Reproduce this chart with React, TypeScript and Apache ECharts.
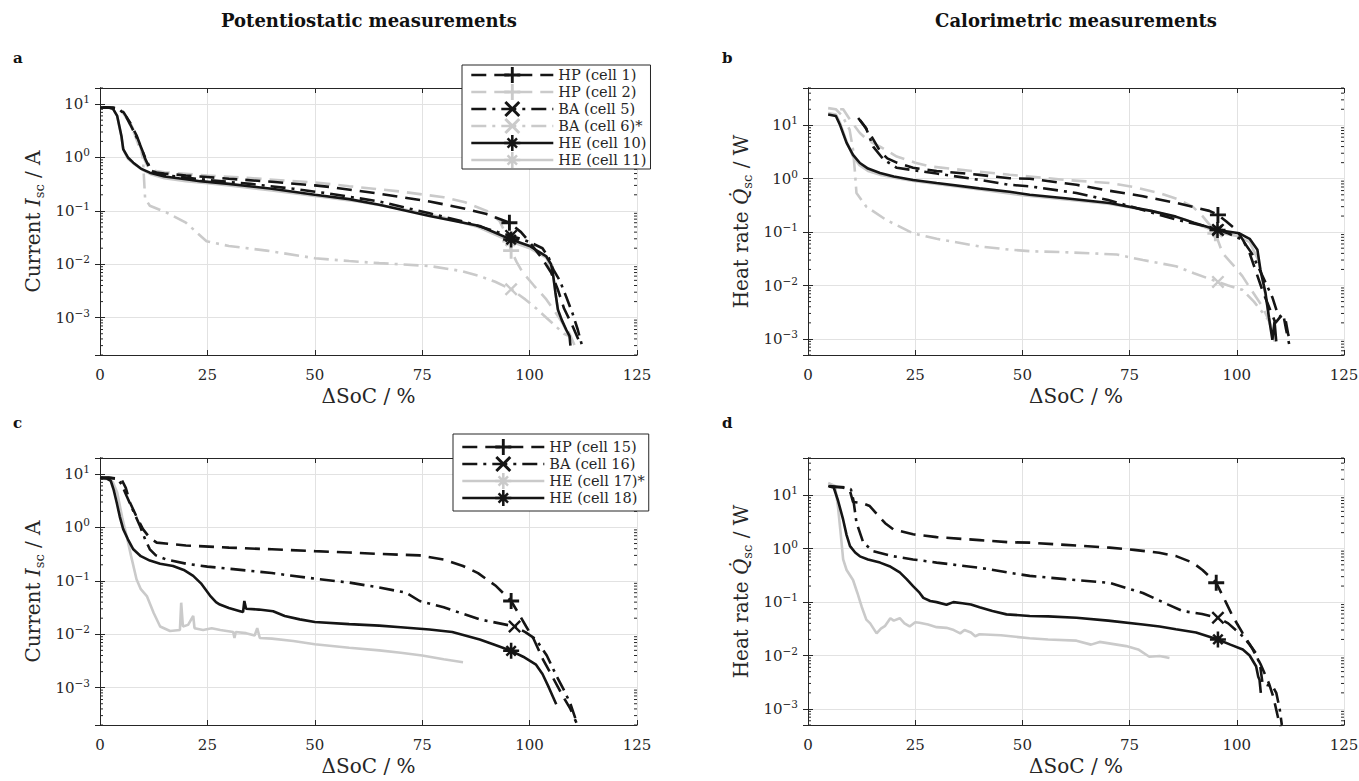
import React, { useEffect, useRef } from "react";
import * as echarts from "echarts";

const FONT = "DejaVu Serif";
const INK = "#262626";
const BLACK = "#151515";
const GRAY = "#cacaca";
const GRIDC = "#e2e2e2";

// x-axis ticks (ΔSoC / %)
const xTickMax = 125;
const xTickStep = 25;

// ---------- Panel a : potentiostatic, current / A ----------
const aHP1: number[][] = [[0,8.6],[2,8.6],[4,8.3],[5.5,7],[7,4.5],[8.5,2.6],[9.5,1.6],[10.5,0.95],[11.6,0.62],[13,0.52],[15,0.5],[20,0.46],[25,0.43],[30,0.4],[40,0.35],[50,0.3],[53.5,0.28],[65,0.21],[76.7,0.15],[85,0.11],[90,0.087],[95.3,0.06],[98,0.04],[100,0.026],[103,0.0125],[105,0.007],[106.5,0.0035],[108,0.0015],[110,0.0007],[111.6,0.00035]];
const aHP2: number[][] = [[0,8.6],[3,8.5],[5,7.5],[6.5,5],[8,2.8],[9.5,1.3],[11,0.7],[13,0.56],[15,0.53],[25,0.46],[35,0.41],[50,0.34],[58,0.29],[70,0.23],[80,0.18],[85,0.145],[90,0.1],[93,0.065],[95,0.03],[95.7,0.018],[97,0.011],[98.4,0.007],[101,0.004],[103.9,0.0022],[106.5,0.0011],[109.3,0.0005],[110.5,0.0003]];
const aBA5: number[][] = [[0,8.6],[3,8.6],[4.5,8],[6,6],[7.5,3.5],[9,2],[10.5,1],[12,0.56],[14,0.48],[20,0.42],[25,0.38],[35,0.32],[45,0.26],[53.5,0.21],[65,0.15],[76.7,0.09],[85,0.062],[92.7,0.04],[95.7,0.034],[98,0.03],[100,0.026],[103,0.02],[104.5,0.013],[105.5,0.008],[107,0.005],[108.5,0.0025],[110,0.0012],[111.2,0.0006],[112.2,0.0003]];
const aBA6: number[][] = [[0,8.6],[3,8.6],[5,7.5],[7,4.5],[8.5,2.5],[9.5,1.5],[10,0.93],[10.5,0.17],[11.6,0.125],[15.5,0.093],[20,0.06],[24.8,0.027],[30,0.022],[38.8,0.018],[50,0.013],[58,0.0115],[65,0.0105],[76.7,0.0093],[84,0.0075],[88.4,0.006],[92,0.0047],[95.7,0.0034],[99,0.0022],[101.5,0.0015],[103.9,0.001],[106,0.0007],[108,0.0005],[109.3,0.00045]];
const aHE10: number[][] = [[0,8.7],[2,8.6],[3,8.2],[4,6],[5,2.5],[5.4,1.43],[6.5,1.0],[7.75,0.8],[9.5,0.62],[11.6,0.52],[15,0.44],[20,0.39],[23.3,0.36],[30,0.32],[40,0.26],[50,0.2],[58,0.166],[65,0.13],[76.7,0.08],[88.4,0.052],[95.7,0.029],[100,0.022],[103.9,0.014],[105,0.01],[105.4,0.007],[106,0.003],[106.6,0.0014],[107.5,0.0009],[108.5,0.0006],[109.3,0.00045],[109.5,0.0003]];
const aHE11: number[][] = [[0,8.7],[2,8.6],[3,8.2],[4,6],[5,2.4],[5.5,1.35],[6.5,0.95],[8,0.75],[10,0.58],[12,0.48],[15,0.41],[20,0.36],[25,0.33],[30,0.3],[40,0.24],[50,0.19],[60,0.15],[70,0.11],[80,0.075],[88,0.05],[95.5,0.027],[100,0.02],[104,0.013],[105.5,0.006],[106.5,0.0015],[108,0.0007],[109.5,0.0004]];
const aMarkX = [95.3, 95.7, 95.7, 95.7, 95.7, 95.5];

// ---------- Panel b : calorimetric, heat rate / W ----------
const bHP1: number[][] = [[11.7,13.7],[13,10],[14.8,6.2],[16.8,3.3],[18.5,2.4],[20.7,2.0],[24.5,1.6],[30,1.4],[40,1.18],[47,1.02],[51.7,1.0],[62.6,0.77],[70,0.6],[78.1,0.47],[86,0.35],[93.6,0.25],[95.6,0.21],[97.5,0.16],[99.9,0.11],[101.5,0.07],[103,0.04],[104.5,0.018],[106,0.008],[107.5,0.004],[109,0.002],[110,0.0025],[110.8,0.003],[111.5,0.0015],[112.2,0.0008]];
const bHP2: number[][] = [[7.5,20],[8.2,20],[10,12],[12.1,7.2],[14,5.2],[16.8,4],[20.7,2.6],[25,2.0],[28.5,1.7],[40,1.35],[47,1.19],[51.7,1.1],[60,0.95],[70.3,0.83],[76,0.7],[81.9,0.54],[86,0.42],[89.7,0.3],[92,0.2],[93.6,0.14],[95,0.095],[96.7,0.04],[99,0.025],[101.3,0.015],[103.5,0.008],[106,0.004],[107.5,0.0022],[108.3,0.0013],[109,0.0009]];
const bBA5: number[][] = [[12.1,12.6],[13.5,9],[15.2,4],[17.6,2.3],[20.7,1.6],[24.5,1.45],[30,1.25],[40,0.95],[47,0.77],[51.7,0.72],[62.6,0.54],[70,0.4],[78.1,0.26],[86,0.17],[93.6,0.125],[95.6,0.11],[98,0.095],[101.3,0.072],[103.5,0.04],[106,0.015],[108.3,0.006],[109.5,0.003],[110.5,0.0025],[111.4,0.0022],[112,0.0012],[112.5,0.0009]];
const bBA6: number[][] = [[4.7,21],[6.5,20],[8,15],[9.7,8.3],[10.5,3.5],[10.9,1.48],[11.3,0.54],[13.6,0.3],[18.2,0.17],[24.5,0.095],[30,0.075],[40,0.054],[47,0.047],[51.7,0.044],[60,0.042],[66.4,0.04],[72,0.038],[78.1,0.03],[85.8,0.023],[90,0.017],[95.6,0.0117],[98,0.01],[101.3,0.0083],[104,0.005],[107.5,0.0022],[108.3,0.0013],[109,0.0009]];
const bHE10: number[][] = [[4.7,16],[6.5,15],[7.5,10],[9,4.7],[10.5,2.8],[12.1,1.97],[14,1.55],[16.8,1.28],[20,1.1],[24.5,0.95],[30,0.83],[40,0.66],[47,0.57],[51.7,0.5],[60,0.43],[70.3,0.35],[80,0.25],[85.8,0.195],[90,0.15],[95.5,0.11],[100.6,0.095],[103,0.075],[104.8,0.047],[105.5,0.02],[106.7,0.0072],[107.5,0.0025],[108.3,0.00096],[108.8,0.0021],[109.2,0.0009]];
const bHE11: number[][] = [[4.7,17],[6.5,16],[7.5,11],[9,5],[10.5,2.6],[12,1.8],[14,1.4],[17,1.18],[20,1.05],[25,0.9],[30,0.8],[40,0.63],[50,0.49],[60,0.41],[70,0.34],[80,0.25],[88,0.17],[95.5,0.1],[100,0.085],[103,0.065],[105,0.03],[106.5,0.008],[108,0.0015],[108.8,0.0009]];
const bMarkX = [95.6, 95, 95.6, 95.6, 95.5, 95.5];

// ---------- Panel c : potentiostatic, current / A ----------
const cHP15: number[][] = [[0,8.5],[2,8.6],[5,8.0],[6,5.5],[7,2.9],[8.5,1.6],[10,0.93],[11.5,0.65],[13.2,0.52],[20,0.46],[30,0.42],[40,0.39],[50,0.36],[58,0.34],[65,0.32],[74.4,0.3],[80,0.25],[84.5,0.19],[88,0.14],[92.2,0.08],[95.7,0.042],[97.5,0.024],[99.2,0.014],[101,0.008],[103.1,0.0034],[105.5,0.0015],[107.7,0.0007],[109.5,0.0004],[110.9,0.00022]];
const cBA16: number[][] = [[0,8.5],[2,8.5],[4,8.2],[5,6.5],[6.2,3.9],[7.8,2],[9.3,1.07],[10.5,0.6],[11.6,0.39],[13,0.3],[15.5,0.25],[20,0.21],[25,0.185],[31,0.166],[40,0.14],[50,0.11],[58,0.093],[65,0.075],[71.3,0.06],[74.4,0.042],[80,0.032],[88.4,0.019],[93,0.016],[96.5,0.014],[99,0.011],[101.5,0.008],[104,0.004],[106.2,0.0017],[108,0.0009],[109.5,0.0005],[111,0.00022]];
const cHE17: number[][] = [[0,8.3],[2,8],[3,7],[4,4.5],[5.2,1.5],[6.2,0.69],[7.2,0.3],[8.5,0.107],[9.5,0.07],[10.9,0.052],[12.5,0.025],[14,0.014],[16.3,0.0115],[18.6,0.012],[18.9,0.039],[19.3,0.014],[20.5,0.015],[21.7,0.022],[22,0.013],[24,0.012],[26,0.013],[28,0.012],[31,0.011],[31.3,0.0085],[31.6,0.011],[34,0.0105],[36,0.0095],[36.6,0.013],[37.2,0.0085],[40,0.0083],[45,0.0075],[50,0.0065],[58,0.0056],[65,0.005],[70,0.0045],[75,0.004],[80,0.0034],[84.5,0.003]];
const cHE18: number[][] = [[0,8.5],[1.5,8.3],[2.5,7.5],[3.2,5],[3.9,2.9],[4.6,1.6],[5.4,0.93],[6.5,0.6],[7.75,0.39],[9.5,0.29],[11.6,0.24],[14,0.21],[17,0.19],[19.5,0.16],[21.7,0.124],[23.5,0.09],[25.6,0.053],[27,0.04],[27.9,0.036],[30,0.031],[32.6,0.027],[33.3,0.026],[33.6,0.042],[34,0.03],[37,0.029],[40.3,0.027],[43,0.022],[46.5,0.019],[50,0.017],[58,0.0155],[65,0.0145],[70,0.0135],[76.7,0.0123],[82,0.011],[88.4,0.008],[92,0.0063],[95.7,0.0049],[98.5,0.0038],[101.5,0.0027],[103,0.0018],[104.5,0.001],[106.2,0.00049]];
const cMarkX = [95.7, 96.5, -1, 95.7];

// ---------- Panel d : calorimetric, heat rate / W ----------
const dHP15: number[][] = [[5,15],[7,14.5],[9,14],[9.8,12],[10.5,7.5],[12.5,7.2],[14.4,6.3],[16,4.5],[18,3],[19.9,2.3],[24.5,1.86],[30,1.65],[40,1.45],[47,1.32],[51.7,1.3],[60,1.18],[70.3,1.05],[76,0.95],[81.9,0.84],[86,0.72],[89.7,0.55],[92,0.4],[95.2,0.23],[97.5,0.098],[99,0.055],[101.4,0.026],[103.5,0.014],[105.5,0.007],[107.5,0.003],[108.5,0.0017],[109.9,0.00055],[110.4,0.0004]];
const dBA16: number[][] = [[5,14.5],[8,14],[10,13],[10.6,8],[11.3,3.1],[12.9,1.3],[15.2,0.9],[20,0.72],[24.5,0.63],[30,0.55],[40,0.44],[47,0.355],[51.7,0.31],[60,0.27],[70.3,0.23],[78.1,0.148],[84,0.09],[87.4,0.068],[91.9,0.06],[95.6,0.051],[98,0.04],[101.4,0.023],[103,0.016],[104.5,0.011],[105.5,0.006],[106,0.003],[107,0.0028],[108.3,0.0027],[109.2,0.002],[110,0.001],[110.5,0.0005]];
const dHE17: number[][] = [[4.7,17],[6.3,15],[7,6],[7.6,2],[8.2,0.63],[9,0.4],[10.5,0.26],[11.5,0.15],[12.5,0.083],[13.6,0.047],[14.5,0.04],[16,0.026],[17,0.032],[18,0.036],[19.2,0.05],[20,0.045],[21.4,0.05],[22.5,0.04],[23.7,0.035],[25,0.042],[26,0.041],[28,0.038],[30,0.034],[32.3,0.033],[34,0.03],[35.5,0.026],[36.5,0.03],[38,0.027],[39,0.023],[40,0.025],[45,0.024],[51.7,0.021],[56,0.02],[62.6,0.019],[66,0.016],[68,0.018],[74.2,0.015],[77,0.013],[79.6,0.0095],[82,0.0098],[84.3,0.009]];
const dHE18: number[][] = [[4.7,15],[6,14],[7,8],[8.2,3.5],[9,1.8],[9.8,1.12],[11,0.85],[12.1,0.72],[14,0.63],[16.8,0.55],[19,0.47],[21.4,0.36],[23,0.27],[24.5,0.2],[26,0.15],[26.9,0.12],[28.5,0.105],[30,0.1],[32.3,0.089],[33.9,0.1],[36,0.095],[38,0.09],[40,0.08],[43,0.068],[46.3,0.059],[51.7,0.055],[56,0.054],[62.6,0.051],[70,0.045],[78.1,0.038],[82,0.035],[85.8,0.031],[90.5,0.027],[95.6,0.02],[98.5,0.016],[101.4,0.013],[103,0.01],[104.5,0.0063],[105,0.004],[105.3,0.0035],[105.6,0.002]];
const dMarkX = [95.2, 95.6, -1, 95.6];

// legend names
const namesTop = ["HP (cell 1)", "HP (cell 2)", "BA (cell 5)", "BA (cell 6)*", "HE (cell 10)", "HE (cell 11)"];
const namesBottom = ["HP (cell 15)", "BA (cell 16)", "HE (cell 17)*", "HE (cell 18)"];

// y ranges
const yRangeCurrent = [2e-4, 20];
const yRangeHeat = [5e-4, 50];

// marker shapes
const PLUS = "path://M0.41,0H0.59V0.41H1V0.59H0.59V1H0.41V0.59H0V0.41H0.41Z";
const CROSS = "path://M0,0.13L0.13,0L1,0.87L0.87,1Z M0.87,0L1,0.13L0.13,1L0,0.87Z";
const STAR = "path://M0.42,0H0.58V0.42H1V0.58H0.58V1H0.42V0.58H0V0.42H0.42Z M0.15,0.26L0.26,0.15L0.85,0.74L0.74,0.85Z M0.74,0.15L0.85,0.26L0.26,0.85L0.15,0.74Z";

const DASH = [15, 8];
const DASHDOT = [15, 6, 3, 6];

type Sty = { color: string; dash: any; symbol: string; size: number; z: number };
const S_HP = (c: string, z: number): Sty => ({ color: c, dash: DASH, symbol: PLUS, size: 16, z });
const S_BA = (c: string, z: number): Sty => ({ color: c, dash: DASHDOT, symbol: CROSS, size: 13, z });
const S_HE = (c: string, z: number): Sty => ({ color: c, dash: "solid", symbol: STAR, size: 16, z });

function lineSeries(name: string, pts: number[][], markX: number, st: Sty, p: number) {
  const data = pts.map((q) => (q[0] === markX ? { value: q } : { value: q, symbol: "none" }));
  return {
    type: "line",
    name,
    xAxisIndex: 2 * p,
    yAxisIndex: 2 * p,
    data,
    symbol: st.symbol,
    symbolSize: st.size,
    showSymbol: true,
    showAllSymbol: true,
    clip: true,
    silent: true,
    z: st.z,
    lineStyle: { color: st.color, width: 2.6, type: st.dash },
    itemStyle: { color: st.color },
  };
}

function minorTicks(range: number[]) {
  const out: number[] = [];
  for (let e = -5; e <= 2; e++) {
    for (let m = 2; m <= 9; m++) {
      const v = m * Math.pow(10, e);
      if (v >= range[0] * 0.999 && v <= range[1] * 1.001) out.push(v);
    }
  }
  return out;
}

function minorTickSeries(p: number, range: number[]) {
  return {
    type: "custom",
    xAxisIndex: 2 * p,
    yAxisIndex: 2 * p,
    silent: true,
    clip: false,
    z: 5,
    data: minorTicks(range).map((v) => [0, v]),
    encode: { x: 0, y: 1 },
    renderItem: (params: any, api: any) => {
      const cs = params.coordSys;
      const y = api.coord([0, api.value(1)])[1];
      return {
        type: "group",
        children: [
          { type: "line", shape: { x1: cs.x, y1: y, x2: cs.x + 3, y2: y }, style: { stroke: INK, lineWidth: 1 } },
          { type: "line", shape: { x1: cs.x + cs.width, y1: y, x2: cs.x + cs.width - 3, y2: y }, style: { stroke: INK, lineWidth: 1 } },
        ],
      };
    },
  };
}

const supStyle = { fontFamily: FONT, fontSize: 10.5, color: INK, lineHeight: 10, verticalAlign: "top" };
function logLabel(v: number) {
  const e = Math.round(Math.log10(v));
  return "10{sup|" + (e < 0 ? "\u2212" + -e : String(e)) + "}";
}

const nameRich = {
  i: { fontFamily: FONT, fontStyle: "italic", fontSize: 20, color: INK, lineHeight: 26 },
  s: { fontFamily: FONT, fontSize: 13, color: INK, lineHeight: 13, verticalAlign: "bottom" },
};

const grids = [
  { left: 100, top: 88, width: 537, height: 267 },
  { left: 808, top: 88, width: 536, height: 267 },
  { left: 100, top: 458, width: 537, height: 267 },
  { left: 808, top: 458, width: 536, height: 267 },
];

function buildAxes() {
  const xAxis: any[] = [];
  const yAxis: any[] = [];
  const yNames = ["Current {i|I}{s|sc} / A", "Heat rate {i|Q\u0307}{s|sc} / W", "Current {i|I}{s|sc} / A", "Heat rate {i|Q\u0307}{s|sc} / W"];
  const ranges = [yRangeCurrent, yRangeHeat, yRangeCurrent, yRangeHeat];
  for (let p = 0; p < 4; p++) {
    const line = { show: true, lineStyle: { color: INK, width: 1 } };
    const tick = { show: true, inside: true, length: 5, lineStyle: { color: INK, width: 1 } };
    xAxis.push({
      type: "value", gridIndex: p, position: "bottom", min: 0, max: xTickMax, interval: xTickStep,
      axisLine: line, axisTick: tick,
      axisLabel: { fontFamily: FONT, fontSize: 15, color: INK, margin: 12 },
      splitLine: { show: true, lineStyle: { color: GRIDC, width: 1 } },
      name: "\u0394SoC / %", nameLocation: "middle", nameGap: 31,
      nameTextStyle: { fontFamily: FONT, fontSize: 20, color: INK },
    });
    xAxis.push({
      type: "value", gridIndex: p, position: "top", min: 0, max: xTickMax, interval: xTickStep,
      axisLine: line, axisTick: tick, axisLabel: { show: false }, splitLine: { show: false },
    });
    yAxis.push({
      type: "log", logBase: 10, gridIndex: p, position: "left", min: ranges[p][0], max: ranges[p][1],
      axisLine: line, axisTick: tick,
      axisLabel: {
        fontFamily: FONT, fontSize: 15, color: INK, margin: 10, lineHeight: 21,
        showMinLabel: false, showMaxLabel: false,
        formatter: logLabel, rich: { sup: supStyle },
      },
      splitLine: { show: true, lineStyle: { color: GRIDC, width: 1 } },
      name: yNames[p], nameLocation: "middle", nameGap: 54,
      nameTextStyle: { fontFamily: FONT, fontSize: 20, color: INK, lineHeight: 26, rich: nameRich },
    });
    yAxis.push({
      type: "log", logBase: 10, gridIndex: p, position: "right", min: ranges[p][0], max: ranges[p][1],
      axisLine: line, axisTick: tick, axisLabel: { show: false }, splitLine: { show: false },
    });
  }
  return { xAxis, yAxis };
}

function buildSeries() {
  const s: any[] = [];
  // panel a (gray first so black sits on top)
  s.push(lineSeries(namesTop[1], aHP2, aMarkX[1], S_HP(GRAY, 2), 0));
  s.push(lineSeries(namesTop[3], aBA6, aMarkX[3], S_BA(GRAY, 2), 0));
  s.push(lineSeries(namesTop[5], aHE11, aMarkX[5], S_HE(GRAY, 2), 0));
  s.push(lineSeries(namesTop[0], aHP1, aMarkX[0], S_HP(BLACK, 3), 0));
  s.push(lineSeries(namesTop[2], aBA5, aMarkX[2], S_BA(BLACK, 3), 0));
  s.push(lineSeries(namesTop[4], aHE10, aMarkX[4], S_HE(BLACK, 3), 0));
  // panel b
  s.push(lineSeries(namesTop[1], bHP2, bMarkX[1], S_HP(GRAY, 2), 1));
  s.push(lineSeries(namesTop[3], bBA6, bMarkX[3], S_BA(GRAY, 2), 1));
  s.push(lineSeries(namesTop[5], bHE11, bMarkX[5], S_HE(GRAY, 2), 1));
  s.push(lineSeries(namesTop[0], bHP1, bMarkX[0], S_HP(BLACK, 3), 1));
  s.push(lineSeries(namesTop[2], bBA5, bMarkX[2], S_BA(BLACK, 3), 1));
  s.push(lineSeries(namesTop[4], bHE10, bMarkX[4], S_HE(BLACK, 3), 1));
  // panel c
  s.push(lineSeries(namesBottom[2], cHE17, cMarkX[2], S_HE(GRAY, 2), 2));
  s.push(lineSeries(namesBottom[0], cHP15, cMarkX[0], S_HP(BLACK, 3), 2));
  s.push(lineSeries(namesBottom[1], cBA16, cMarkX[1], S_BA(BLACK, 3), 2));
  s.push(lineSeries(namesBottom[3], cHE18, cMarkX[3], S_HE(BLACK, 3), 2));
  // panel d
  s.push(lineSeries(namesBottom[2], dHE17, dMarkX[2], S_HE(GRAY, 2), 3));
  s.push(lineSeries(namesBottom[0], dHP15, dMarkX[0], S_HP(BLACK, 3), 3));
  s.push(lineSeries(namesBottom[1], dBA16, dMarkX[1], S_BA(BLACK, 3), 3));
  s.push(lineSeries(namesBottom[3], dHE18, dMarkX[3], S_HE(BLACK, 3), 3));
  s.push(minorTickSeries(0, yRangeCurrent));
  s.push(minorTickSeries(1, yRangeHeat));
  s.push(minorTickSeries(2, yRangeCurrent));
  s.push(minorTickSeries(3, yRangeHeat));
  return s;
}

function legendItems(names: string[], styles: Sty[]) {
  return names.map((n, i) => ({
    name: n,
    lineStyle: { color: styles[i].color, width: 2.6, type: styles[i].dash },
    itemStyle: { color: styles[i].color },
  }));
}

function buildOption() {
  const { xAxis, yAxis } = buildAxes();
  const legendCommon = {
    orient: "vertical", itemWidth: 82, itemHeight: 20, itemGap: 1,
    backgroundColor: "#ffffff", borderColor: INK, borderWidth: 1, borderRadius: 0,
    selectedMode: false, z: 10,
    textStyle: { fontFamily: FONT, fontSize: 14.5, color: INK },
  };
  const topStyles = [S_HP(BLACK, 3), S_HP(GRAY, 2), S_BA(BLACK, 3), S_BA(GRAY, 2), S_HE(BLACK, 3), S_HE(GRAY, 2)];
  const botStyles = [S_HP(BLACK, 3), S_BA(BLACK, 3), S_HE(GRAY, 2), S_HE(BLACK, 3)];
  const letter = (t: string, x: number, y: number) => ({
    type: "text", x, y,
    style: { text: t, fontFamily: FONT, fontSize: 15, fontWeight: "bold", fill: "#111", align: "left", verticalAlign: "middle" },
  });
  const title = (t: string, x: number, y: number) => ({
    type: "text", x, y,
    style: { text: t, fontFamily: FONT, fontSize: 18, fontWeight: "bold", fill: "#111", align: "center", verticalAlign: "middle" },
  });
  return {
    animation: false,
    backgroundColor: "#ffffff",
    grid: grids.map((g) => ({ ...g, containLabel: false, outerBoundsMode: "none" })),
    xAxis,
    yAxis,
    legend: [
      { ...legendCommon, left: 462, top: 65, padding: [2, 4, 1, 8], data: legendItems(namesTop, topStyles) },
      { ...legendCommon, left: 453, top: 434, padding: [5, 4, 5, 8], data: legendItems(namesBottom, botStyles) },
    ],
    graphic: [
      title("Potentiostatic measurements", 369, 20),
      title("Calorimetric measurements", 1076, 20),
      letter("a", 13, 58),
      letter("b", 722, 58),
      letter("c", 13, 423),
      letter("d", 722, 423),
    ],
    series: buildSeries(),
  };
}

export default function App() {
  const ref = useRef<HTMLDivElement>(null);
  useEffect(() => {
    if (!ref.current) return;
    const chart = echarts.init(ref.current, undefined, { renderer: "svg" });
    chart.setOption(buildOption() as any);
    return () => chart.dispose();
  }, []);
  return (
    <div
      ref={ref}
      style={{ position: "absolute", left: 0, top: 0, width: 1359, height: 781, background: "#fff" }}
    />
  );
}
